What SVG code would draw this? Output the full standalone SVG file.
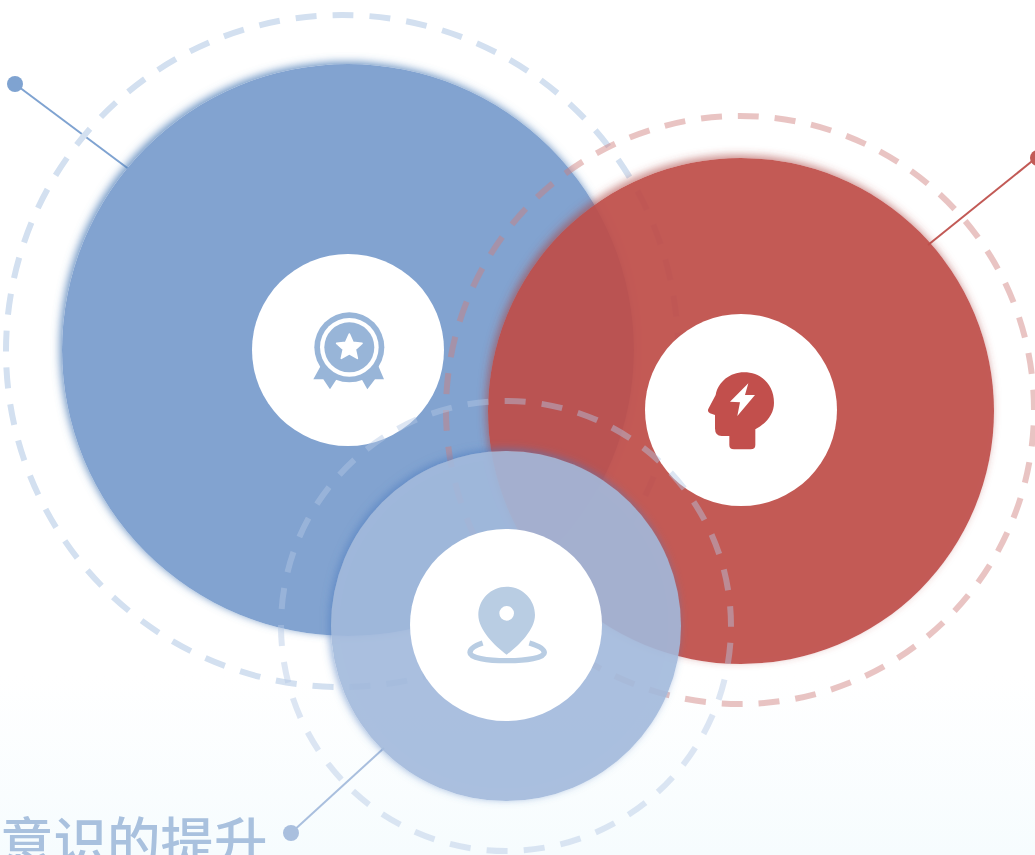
<svg xmlns="http://www.w3.org/2000/svg" width="1035" height="855" viewBox="0 0 1035 855">
<style>
.ring{fill:none;stroke-width:6}
.inner{fill:#fff}
.lead{fill:none;stroke-width:2}
</style>
<defs>
<linearGradient id="bg" x1="0" y1="0" x2="0" y2="1"><stop offset="0" stop-color="#fff"/><stop offset="0.79" stop-color="#fff"/><stop offset="1" stop-color="#f6fcfe"/></linearGradient>
<filter id="glowB" x="-10%" y="-10%" width="120%" height="120%"><feGaussianBlur in="SourceAlpha" stdDeviation="4"/><feOffset dx="-2" dy="-2"/><feComposite in2="SourceAlpha" operator="out" result="s"/><feFlood flood-color="#4f7fb8" flood-opacity="0.85"/><feComposite in2="s" operator="in"/><feMerge><feMergeNode/><feMergeNode in="SourceGraphic"/></feMerge></filter>
<filter id="glowR" x="-10%" y="-10%" width="120%" height="120%"><feGaussianBlur in="SourceAlpha" stdDeviation="4"/><feOffset dx="-2" dy="-3"/><feComposite in2="SourceAlpha" operator="out" result="s"/><feFlood flood-color="#a9403d" flood-opacity="0.65"/><feComposite in2="s" operator="in"/><feMerge><feMergeNode/><feMergeNode in="SourceGraphic"/></feMerge></filter>
<filter id="glowL" x="-10%" y="-10%" width="120%" height="120%"><feGaussianBlur in="SourceAlpha" stdDeviation="4"/><feOffset dx="-2" dy="-2"/><feComposite in2="SourceAlpha" operator="out" result="s"/><feFlood flood-color="#4d7cc0" flood-opacity="0.7"/><feComposite in2="s" operator="in"/><feMerge><feMergeNode/><feMergeNode in="SourceGraphic"/></feMerge></filter>
</defs>
<rect width="1035" height="855" fill="url(#bg)"/>
<g id="connectors">
<path class="lead" stroke="#7fa3d1" d="M15 84L130 170"/>
<path class="lead" stroke="#c25a56" d="M1036 158L928 245"/>
<path class="lead" stroke="#a9bfde" d="M291 833L384 748"/>
<circle cx="15" cy="84" r="8" fill="#7fa3d1"/>
<circle cx="1038" cy="158" r="8" fill="#c25a56"/>
<circle cx="291" cy="833" r="8" fill="#a9bfde"/>
</g>
<g id="node-blue">
<circle class="ring" cx="342" cy="351" r="336" stroke="#d3e0f0" stroke-dasharray="21 16.04" stroke-dashoffset="19.5"/>
<circle cx="348" cy="350" r="286" fill="#82a3d0" filter="url(#glowB)"/>
<circle class="inner" cx="348" cy="350" r="96"/>
<g transform="translate(280 290) scale(.3333)" fill="#98b5d8">
<path d="M122 228L100 268L130 268L150 298L178 255ZM295 228L312 268L285 268L262 298L238 255Z"/>
<circle cx="208" cy="172" r="105"/>
<circle cx="208" cy="172" r="88" fill="#fff"/>
<circle cx="208" cy="172" r="75"/>
<path fill="#fff" d="M208 132L219 157L246 160L226 178L232 205L208 191L184 205L190 178L170 160L197 157Z" stroke="#fff" stroke-width="5" stroke-linejoin="round"/>
</g>
</g>
<g id="node-red">
<circle class="ring" cx="740" cy="410" r="294" stroke="#d07f7c" stroke-opacity="0.46" stroke-dasharray="21 15.95" stroke-dashoffset="21.4"/>
<circle cx="741" cy="411" r="253" fill="#be4e4a" fill-opacity="0.93" filter="url(#glowR)"/>
<circle class="inner" cx="741" cy="410" r="96"/>
<g transform="translate(680 350) scale(.3333)">
<path fill="#c24f4c" d="M192 67C245 67 282 105 282 158C282 190 262 218 226 238L226 285Q226 298 212 298L162 298Q148 298 148 285L148 258L125 258Q105 258 105 235L105 195L90 190Q80 185 86 175L107 135C115 95 150 67 192 67Z"/>
<path fill="#fff" d="M205 100L150 155L180 157L172 198L225 135L195 135Z"/>
</g>
</g>
<g id="node-light">
<circle class="ring" cx="506" cy="626" r="225" stroke="#b3c8e4" stroke-opacity="0.45" stroke-dasharray="21 16.2" stroke-dashoffset="20.3"/>
<circle cx="506" cy="626" r="175" fill="#a2b9dc" fill-opacity="0.9" filter="url(#glowL)"/>
<circle class="inner" cx="506" cy="625" r="96"/>
<g transform="translate(450 570) scale(.3333)">
<path fill="#b9cde3" fill-rule="evenodd" d="M170 50C217 50 255 88 255 135C255 180 205 228 170 254C135 228 85 180 85 135C85 88 123 50 170 50ZM170 108A22 22 0 1 0 170 152A22 22 0 1 0 170 108Z"/>
<path fill="none" stroke="#b9cde3" stroke-width="16" d="M98 219C70 228 60 238 60 248C60 263 110 272 170 272C230 272 283 263 283 248C283 238 268 228 238 219"/>
</g>
</g>
<text id="caption" x="0" y="862" font-family="'Noto Sans CJK SC','Noto Sans CJK JP',serif" font-size="53.5" font-weight="500" fill="#a9c1de">意识的提升</text>
</svg>
